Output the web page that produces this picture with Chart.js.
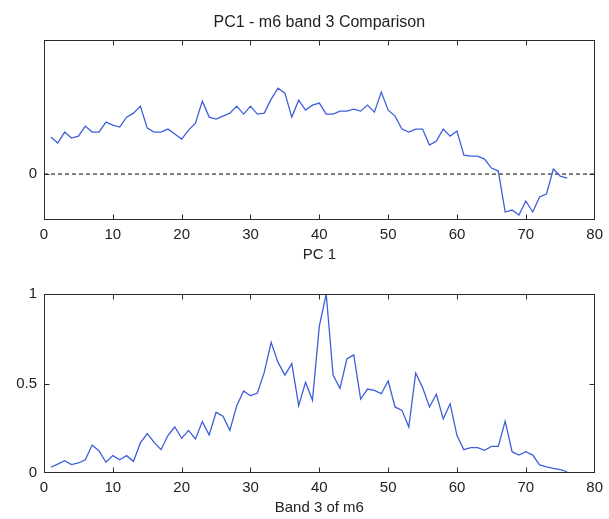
<!DOCTYPE html>
<html><head><meta charset="utf-8">
<script src="https://cdn.jsdelivr.net/npm/chart.js@4/dist/chart.umd.min.js"></script>
<style>
body{margin:0;background:#fff;width:609px;height:519px;overflow:hidden;position:relative}
#c1{position:absolute;left:0;top:0}
#c2{position:absolute;left:0;top:264px}
</style>
</head><body>
<canvas id="c1" width="609" height="264"></canvas>
<canvas id="c2" width="609" height="255"></canvas>
<script>
// ---- data ----
const bands = Array.from({length:76},(_, i)=>i+1);
const pc1 = [0.37,0.31,0.42,0.36,0.38,0.48,0.42,0.42,0.52,0.49,
             0.47,0.57,0.61,0.68,0.46,0.42,0.42,0.45,0.40,0.35,
             0.44,0.51,0.73,0.57,0.55,0.58,0.61,0.68,0.60,0.68,
             0.60,0.61,0.75,0.86,0.81,0.57,0.74,0.64,0.69,0.71,
             0.60,0.60,0.63,0.63,0.65,0.63,0.69,0.62,0.82,0.64,
             0.58,0.45,0.42,0.45,0.45,0.29,0.33,0.45,0.38,0.43,
             0.19,0.18,0.18,0.15,0.06,0.03,-0.38,-0.36,-0.41,-0.27,
             -0.38,-0.23,-0.20,0.05,-0.02,-0.04];
const band3 = [0.032,0.050,0.069,0.047,0.056,0.074,0.156,0.123,0.060,0.097,
               0.074,0.097,0.065,0.168,0.220,0.171,0.130,0.209,0.257,0.194,
               0.238,0.190,0.287,0.212,0.339,0.317,0.238,0.376,0.458,0.432,
               0.447,0.562,0.730,0.618,0.547,0.611,0.376,0.507,0.406,0.820,
               1.000,0.547,0.473,0.637,0.660,0.413,0.469,0.462,0.443,0.514,
               0.369,0.350,0.257,0.559,0.477,0.369,0.440,0.302,0.387,0.209,
               0.130,0.142,0.142,0.127,0.149,0.149,0.290,0.119,0.100,0.119,
               0.100,0.045,0.034,0.026,0.019,0.007];
const xTicks = [0,10,20,30,40,50,60,70,80];
const pcYTicks = [0];
const bandYTicks = [0,0.5,1];
const zeroLineX = [0,80];
const zeroLineY = [0,0];

// ---- styling ----
const FONT = '"Liberation Sans", Arial, sans-serif';
const tickFont = {family:FONT, size:15};
const lineColor = '#3d5fd9';

const boxPlugin = {
  id:'box',
  afterDatasetsDraw(chart){
    const {ctx, chartArea:a, scales} = chart;
    const L=Math.round(a.left)+0.5, R=Math.round(a.right)-0.5, T=Math.round(a.top)+0.5, B=Math.round(a.bottom)-0.5;
    ctx.save();
    ctx.strokeStyle='#2a2a2a'; ctx.lineWidth=1;
    ctx.strokeRect(L,T,R-L,B-T);
    const tl=5;
    ctx.beginPath();
    scales.x.ticks.forEach(t=>{
      const px=Math.round(scales.x.getPixelForValue(t.value))+0.5;
      if(px<=L+1||px>=R-1) return;
      ctx.moveTo(px,B); ctx.lineTo(px,B-tl);
      ctx.moveTo(px,T); ctx.lineTo(px,T+tl);
    });
    scales.y.ticks.forEach(t=>{
      const py=Math.round(scales.y.getPixelForValue(t.value))+0.5;
      if(py<=T+1||py>=B-1) return;
      ctx.moveTo(L,py); ctx.lineTo(L+tl,py);
      ctx.moveTo(R,py); ctx.lineTo(R-tl,py);
    });
    ctx.stroke();
    ctx.restore();
  }
};

function xScale(title, h){
  return {
    type:'linear', min:0, max:80,
    afterBuildTicks:s=>{s.ticks = xTicks.map(v=>({value:v}));},
    afterFit:s=>{s.height=h;},
    grid:{display:false, drawTicks:false},
    border:{display:false},
    ticks:{font:tickFont, color:'#222', padding:6, maxRotation:0, callback:v=>String(v)},
    title:{display:true, text:title, font:{family:FONT,size:15}, color:'#222', padding:0}
  };
}
function yScale(min,max,ticks){
  return {
    type:'linear', min:min, max:max,
    afterBuildTicks:s=>{s.ticks = ticks.map(v=>({value:v}));},
    afterFit:s=>{s.width=44;},
    grid:{display:false, drawTicks:false},
    border:{display:false},
    ticks:{font:tickFont, color:'#222', padding:7, callback:v=>String(v)}
  };
}

new Chart(document.getElementById('c1'),{
  type:'line',
  data:{datasets:[
    {data:bands.map((b,i)=>({x:b,y:pc1[i]})), borderColor:lineColor, borderWidth:1.3, pointRadius:0, tension:0, fill:false},
    {data:zeroLineX.map((x,i)=>({x:x,y:zeroLineY[i]})), borderColor:'#000', borderWidth:1, borderDash:[4,3], pointRadius:0, fill:false}
  ]},
  options:{
    responsive:false, animation:false,
    layout:{padding:{left:0,right:14,top:0,bottom:0}},
    plugins:{
      legend:{display:false}, tooltip:{enabled:false},
      title:{display:true, text:'PC1 - m6 band 3 Comparison', fullSize:false, color:'#222',
             font:{family:FONT,size:16,weight:'normal'}, padding:{top:13,bottom:8}}
    },
    scales:{x:xScale('PC 1',44), y:yScale(-0.46,1.34,pcYTicks)}
  },
  plugins:[boxPlugin]
});

new Chart(document.getElementById('c2'),{
  type:'line',
  data:{datasets:[
    {data:bands.map((b,i)=>({x:b,y:band3[i]})), borderColor:lineColor, borderWidth:1.3, pointRadius:0, tension:0, fill:false}
  ]},
  options:{
    responsive:false, animation:false,
    layout:{padding:{left:0,right:14,top:30,bottom:2}},
    plugins:{legend:{display:false}, tooltip:{enabled:false}},
    scales:{x:xScale('Band 3 of m6',44), y:yScale(0,1,bandYTicks)}
  },
  plugins:[boxPlugin]
});
</script>
</body></html>
